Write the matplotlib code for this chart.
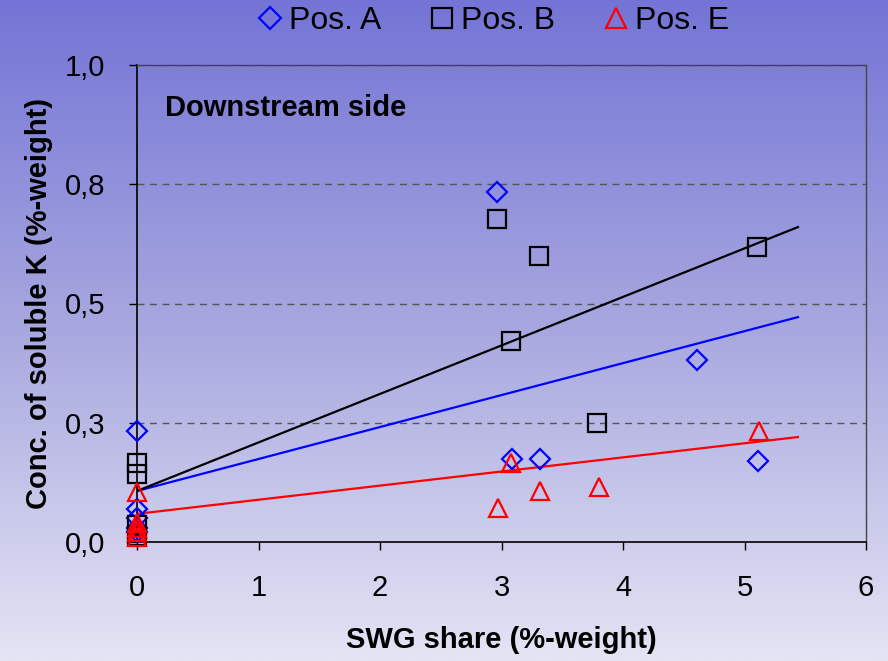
import numpy as np
import matplotlib
matplotlib.use("Agg")
import matplotlib.pyplot as plt
from matplotlib.colors import LinearSegmentedColormap

plt.rcParams['font.family'] = ['Liberation Sans', 'DejaVu Sans']

# Measured points
pos_a_x = [0, 0, 0, 0, 0, 2.96, 3.09, 3.32, 4.61, 5.11]
pos_a_y = [0.233, 0.07, 0.05, 0.03, 0.02, 0.734, 0.174, 0.174, 0.382, 0.170]

pos_b_x = [0, 0, 0, 0, 2.96, 3.31, 3.08, 3.79, 5.10]
pos_b_y = [0.165, 0.143, 0.036, 0.012, 0.677, 0.600, 0.421, 0.249, 0.618]

pos_e_x = [0, 0, 0, 0, 0, 2.97, 3.08, 3.32, 3.80, 5.12]
pos_e_y = [0.105, 0.04, 0.03, 0.02, 0.01, 0.071, 0.166, 0.107, 0.115, 0.233]

# Linear trend lines (intercept, slope) and their x extent
trend_intercepts = [0.107, 0.107, 0.059]
trend_slopes = [0.067, 0.1017, 0.0296]
trend_x_end = 5.44

series_names = ["Pos. A", "Pos. B", "Pos. E"]
series_colors = ["#0000FF", "#000000", "#FF0000"]
series_markers = ["D", "s", "^"]

y_ticks = [0, 0.25, 0.5, 0.75, 1.0]
y_tick_labels = ["0,0", "0,3", "0,5", "0,8", "1,0"]
x_ticks = [0, 1, 2, 3, 4, 5, 6]

fig = plt.figure(figsize=(8.88, 6.61), dpi=100)

# Vertical gradient background
bg = fig.add_axes([0, 0, 1, 1], zorder=-10)
cmap = LinearSegmentedColormap.from_list("bg", ["#7474D6", "#A8A8E0", "#E4E4F4"])
grad = np.linspace(0, 1, 256).reshape(-1, 1)
bg.imshow(grad, aspect="auto", cmap=cmap, extent=[0, 1, 0, 1], origin="upper")
bg.set_axis_off()

ax = fig.add_axes([137 / 888, 1 - 542 / 661, (866 - 137) / 888, (542 - 65) / 661])
ax.set_facecolor("none")

xs = [pos_a_x, pos_b_x, pos_e_x]
ys = [pos_a_y, pos_b_y, pos_e_y]
sizes = [10, 13, 13]

for sx, sy, name, col, mk, ms in zip(xs, ys, series_names, series_colors, series_markers, sizes):
    ax.plot(sx, sy, linestyle="none", marker=mk, markersize=ms,
            markerfacecolor="none", markeredgecolor=col, markeredgewidth=1.6,
            label=name, clip_on=False, zorder=3)

xl = np.array([0, trend_x_end])
for b0, b1, col in zip(trend_intercepts, trend_slopes, series_colors):
    ax.plot(xl, b0 + b1 * xl, color=col, linewidth=1.6, zorder=2)

ax.set_xlim(0, 6)
ax.set_ylim(0, 1.0)
ax.set_yticks(y_ticks)
ax.set_yticklabels(y_tick_labels)
ax.set_xticks(x_ticks)
ax.tick_params(axis="both", labelsize=21, direction="out", length=6, width=1, color="black")
ax.tick_params(axis="x", pad=17)
ax.tick_params(axis="y", pad=17)

for yv in y_ticks[1:]:
    ax.axhline(yv, color="#555555", linestyle=(0, (5, 4)), linewidth=1.0, zorder=1)

for side in ["left", "bottom"]:
    ax.spines[side].set_color("black")
    ax.spines[side].set_linewidth(1.2)
for side in ["top", "right"]:
    ax.spines[side].set_color("#444444")
    ax.spines[side].set_linewidth(1.0)

ax.set_xlabel("SWG share (%-weight)", fontsize=21, fontweight="bold", labelpad=17)
ax.set_ylabel("Conc. of soluble K (%-weight)", fontsize=21, fontweight="bold", labelpad=8)

ax.text(0.23, 0.91, "Downstream side", fontsize=21, fontweight="bold",
        ha="left", va="center", transform=ax.transData)

leg = fig.legend(loc="center", bbox_to_anchor=(0.552, 1 - 21 / 661), ncol=3,
                 frameon=False, fontsize=23, handletextpad=0.0, handlelength=1.2,
                 columnspacing=1.3, markerscale=1.1)

fig.savefig("out.png", dpi=100)
